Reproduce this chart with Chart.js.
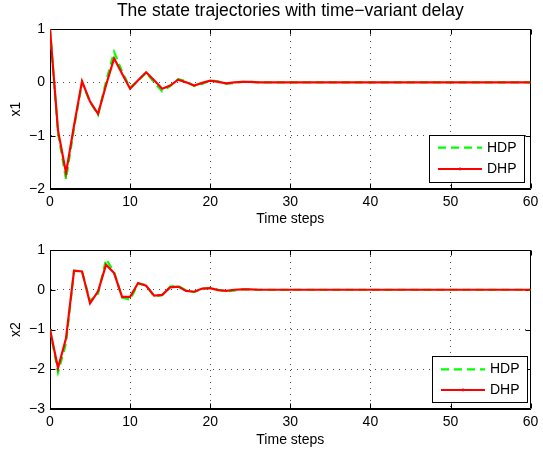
<!DOCTYPE html>
<html><head><meta charset="utf-8">
<script src="https://cdn.jsdelivr.net/npm/chart.js@4.4.0/dist/chart.umd.min.js"></script>
<style>
html,body{margin:0;padding:0;background:#fff;}
#wrap{position:relative;width:543px;height:455px;overflow:hidden;background:#fff;}
canvas{position:absolute;left:0;}
</style></head><body>
<div id="wrap">
<canvas id="c1" width="543" height="232" style="top:0"></canvas>
<canvas id="c2" width="543" height="223" style="top:232px"></canvas>
</div>
<script>
// ---------- data ----------
const timeSteps = Array.from({length: 61}, (_, i) => i);
const x1HDP = [1.00,-0.95,-1.82,-0.86,0.00,-0.37,-0.61,0.02,0.57,0.20,-0.10,0.03,0.18,0.00,-0.17,-0.07,0.06,0.02,-0.07,-0.03,0.04,0.02,-0.03,-0.01,0.01,0.01,0,0,0,0,0,0,0,0,0,0,0,0,0,0,0,0,0,0,0,0,0,0,0,0,0,0,0,0,0,0,0,0,0,0,0];
const x1DHP = [1.00,-0.90,-1.70,-0.81,0.02,-0.36,-0.59,-0.05,0.45,0.16,-0.12,0.04,0.19,0.04,-0.12,-0.06,0.05,0.00,-0.06,-0.01,0.03,0.01,-0.02,0.00,0.01,0.01,0,0,0,0,0,0,0,0,0,0,0,0,0,0,0,0,0,0,0,0,0,0,0,0,0,0,0,0,0,0,0,0,0,0,0];
const x2HDP = [-1.00,-2.08,-1.35,0.48,0.46,-0.28,-0.10,0.77,0.45,-0.20,-0.25,0.15,0.12,-0.17,-0.14,0.08,0.10,-0.02,-0.06,0.02,0.05,0.00,-0.04,-0.02,0.01,0.01,0,0,0,0,0,0,0,0,0,0,0,0,0,0,0,0,0,0,0,0,0,0,0,0,0,0,0,0,0,0,0,0,0,0,0];
const x2DHP = [-1.00,-1.97,-1.22,0.48,0.46,-0.34,-0.04,0.63,0.42,-0.18,-0.18,0.17,0.10,-0.15,-0.13,0.06,0.08,-0.03,-0.05,0.03,0.04,-0.01,-0.03,0.00,0.01,0.01,0,0,0,0,0,0,0,0,0,0,0,0,0,0,0,0,0,0,0,0,0,0,0,0,0,0,0,0,0,0,0,0,0,0,0];
const xTicks = [0,10,20,30,40,50,60];
const x1Ticks = [-2,-1,0,1];
const x2Ticks = [-3,-2,-1,0,1];
const seriesLabels = ['HDP','DHP'];
const chartTitle = 'The state trajectories with time\u2212variant delay';
const xTitle = 'Time steps';

// ---------- styling ----------
const FONT = "'Liberation Sans', Arial, Helvetica, sans-serif";
Chart.defaults.font.family = FONT;
Chart.defaults.color = '#000';

const pts = arr => arr.map((v, i) => ({x: timeSteps[i], y: v}));
const fmt = v => String(v).replace('-', '\u2212');

const framePlugin = {
  id: 'frame',
  beforeDatasetsDraw(chart) {
    const {ctx, chartArea: a, scales} = chart;
    const L = Math.round(a.left) + 0.5, R = Math.round(a.right) - 0.5;
    const T = Math.round(a.top) + 0.5, B = Math.round(a.bottom) - 0.5;
    ctx.save();
    ctx.strokeStyle = '#000';
    ctx.lineWidth = 1;
    ctx.setLineDash([]);
    ctx.beginPath();
    ctx.rect(L, T, R - L, B - T);
    const tl = 5;
    scales.x.ticks.forEach(t => {
      const px = Math.round(scales.x.getPixelForValue(t.value)) + 0.5;
      ctx.moveTo(px, B); ctx.lineTo(px, B - tl);
      ctx.moveTo(px, T); ctx.lineTo(px, T + tl);
    });
    scales.y.ticks.forEach(t => {
      const py = Math.round(scales.y.getPixelForValue(t.value)) + 0.5;
      ctx.moveTo(L, py); ctx.lineTo(L + tl, py);
      ctx.moveTo(R, py); ctx.lineTo(R - tl, py);
    });
    ctx.stroke();
    ctx.restore();
  }
};

const legendPlugin = {
  id: 'legendBox',
  afterDatasetsDraw(chart, args, o) {
    const {ctx, chartArea: a} = chart;
    const x0 = Math.round(a.right - o.right - o.w), y0 = Math.round(a.bottom - o.bottom - o.h);
    ctx.save();
    ctx.fillStyle = '#fff';
    ctx.fillRect(x0, y0, o.w, o.h);
    ctx.strokeStyle = '#000';
    ctx.lineWidth = 1;
    ctx.setLineDash([]);
    ctx.strokeRect(x0 + 0.5, y0 + 0.5, o.w, o.h);
    chart.data.datasets.forEach((ds, i) => {
      const cy = y0 + o.row0 + i * o.rowGap;
      ctx.strokeStyle = ds.borderColor;
      ctx.lineWidth = ds.borderWidth;
      ctx.setLineDash(ds.borderDash || []);
      ctx.beginPath();
      ctx.moveTo(x0 + 9, cy); ctx.lineTo(x0 + 53, cy);
      ctx.stroke();
      if (!ds.borderDash) {
        ctx.fillStyle = ds.borderColor;
        ctx.beginPath(); ctx.arc(x0 + 31, cy, 1.4, 0, Math.PI * 2); ctx.fill();
      }
      ctx.setLineDash([]);
      ctx.fillStyle = '#000';
      ctx.font = '14px ' + FONT;
      ctx.textBaseline = 'middle';
      ctx.textAlign = 'left';
      ctx.fillText(ds.label, x0 + 58, cy);
    });
    ctx.restore();
  }
};

function makeChart(id, hdp, dhp, yTicks, yLabel, opt) {
  return new Chart(document.getElementById(id), {
    type: 'line',
    data: {
      datasets: [
        {label: seriesLabels[0], data: pts(hdp), borderColor: '#00ff00', borderWidth: 2.2,
         borderDash: [8, 5], pointRadius: 0, tension: 0, order: 2, fill: false},
        {label: seriesLabels[1], data: pts(dhp), borderColor: '#ff0000', backgroundColor: '#ff0000', borderWidth: 2.2,
         pointRadius: 0, pointHoverRadius: 0, tension: 0, order: 1, fill: false}
      ]
    },
    options: {
      responsive: false,
      animation: false,
      events: [],
      layout: {padding: {left: 0, right: 9.5, top: opt.padTop, bottom: 0}},
      plugins: {
        legend: {display: false},
        tooltip: {enabled: false},
        title: opt.title ? {display: true, text: chartTitle, fullSize: false,
          font: {size: 17.5, weight: 'normal', family: FONT}, color: '#000',
          padding: {top: 0.2, bottom: 7.8}} : {display: false},
        legendBox: opt.legend
      },
      scales: {
        x: {
          type: 'linear', min: 0, max: 60,
          afterBuildTicks: s => { s.ticks = xTicks.map(v => ({value: v})); },
          afterFit: s => { s.height = opt.xHeight; },
          ticks: {font: {size: 14}, color: '#000', padding: 4.6, maxRotation: 0, autoSkip: false, callback: fmt},
          grid: {color: 'rgba(0,0,0,0.7)', lineWidth: 1, drawTicks: false},
          border: {display: true, color: '#000', width: 1, dash: [1, 5]},
          title: {display: true, text: xTitle, font: {size: 14}, color: '#000', padding: {top: 0, bottom: opt.xTitlePad}}
        },
        y: {
          type: 'linear', min: yTicks[0], max: yTicks[yTicks.length - 1],
          afterBuildTicks: s => { s.ticks = yTicks.map(v => ({value: v})); },
          afterFit: s => { s.width = 50; },
          ticks: {font: {size: 14}, color: '#000', padding: 5, autoSkip: false, callback: fmt},
          grid: {color: 'rgba(0,0,0,0.7)', lineWidth: 1, drawTicks: false},
          border: {display: true, color: '#000', width: 1, dash: [1, 5]},
          title: {display: true, text: yLabel, font: {size: 14}, color: '#000', padding: {top: 7.6, bottom: 0}}
        }
      }
    },
    plugins: [framePlugin, legendPlugin]
  });
}

makeChart('c1', x1HDP, x1DHP, x1Ticks, 'x1',
  {title: true, padTop: 0, xHeight: 43, xTitlePad: 4.6,
   legend: {w: 95, h: 47, right: 6.5, bottom: 7, row0: 12.7, rowGap: 21.3}});
makeChart('c2', x2HDP, x2DHP, x2Ticks, 'x2',
  {title: false, padTop: 18, xHeight: 46, xTitlePad: 6.6,
   legend: {w: 95, h: 46, right: 3.5, bottom: 7, row0: 13.3, rowGap: 20.7}});
</script>
</body></html>
